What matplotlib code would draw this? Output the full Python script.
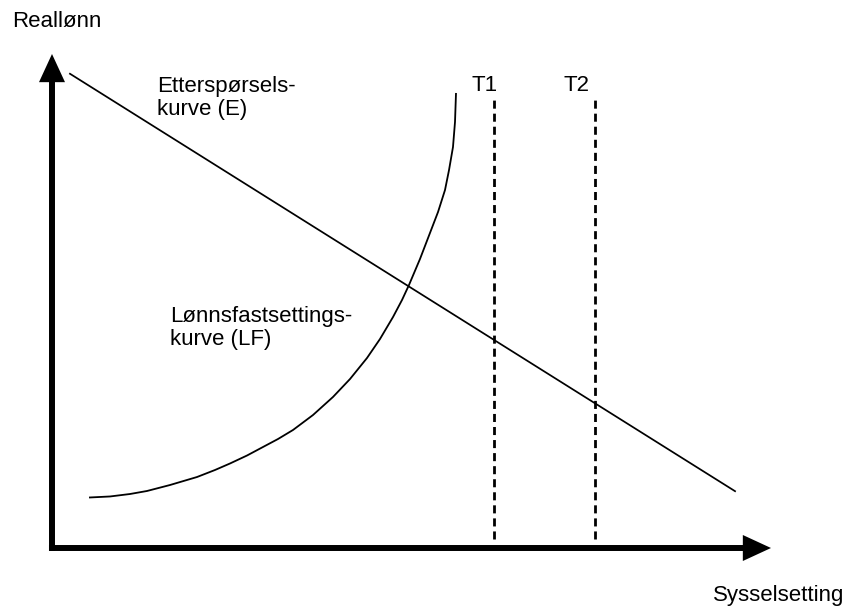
import matplotlib
matplotlib.use("Agg")
import matplotlib.pyplot as plt

plt.rcParams['font.family'] = ['Liberation Sans', 'DejaVu Sans']

# Data (abstract units: axis runs 0..100 on both axes)
demand_x = [2.5, 95.0]
demand_y = [96.0, 11.5]

lf_x = [5.15, 8.07, 10.85, 13.21, 16.41, 20.17, 22.67, 24.76, 27.12, 29.35,
        31.43, 33.52, 36.30, 39.08, 41.45, 43.81, 45.62, 47.43, 48.68, 49.65,
        51.18, 52.57, 53.69, 54.66, 55.22, 55.77, 56.05, 56.19]
lf_y = [10.22, 10.43, 10.93, 11.54, 12.75, 14.37, 15.79, 17.11, 18.72, 20.45,
        22.06, 23.89, 26.92, 30.57, 34.21, 38.46, 42.31, 46.76, 50.20, 53.24,
        58.50, 63.77, 68.02, 72.47, 76.52, 81.17, 86.23, 92.11]

t_positions = [61.5, 75.5]
t_labels = ['T1', 'T2']
t_label_x = [58.4, 71.1]
t_ymin, t_ymax = 1.8, 90.7

W, H = 847, 608
fig = plt.figure(figsize=(W / 100, H / 100), dpi=100)
fig.patch.set_facecolor('white')
x0, y0, x1, y1 = 52, 548, 771, 54
ax = fig.add_axes([x0 / W, (H - y0) / H, (x1 - x0) / W, (y0 - y1) / H])
ax.set_xlim(0, 100)
ax.set_ylim(0, 100)
ax.axis('off')

FS = 16

# axes arrows
arrow_kw = dict(arrowstyle='-|>,head_length=1.3,head_width=0.6', lw=4.3,
                color='black', shrinkA=0, shrinkB=0, mutation_scale=10,
                joinstyle='miter', capstyle='butt')
ax.annotate('', xy=(0, 100), xytext=(0, -0.6), arrowprops=arrow_kw, annotation_clip=False)
ax.annotate('', xy=(100, 0), xytext=(-0.42, 0), arrowprops=arrow_kw, annotation_clip=False)

# demand line
ax.plot(demand_x, demand_y, color='black', lw=1.25, clip_on=False)
# wage-setting curve
ax.plot(lf_x, lf_y, color='black', lw=1.3, clip_on=False,
        solid_joinstyle='round', solid_capstyle='butt')

# dashed vertical lines
for xp, lab, lx in zip(t_positions, t_labels, t_label_x):
    ax.plot([xp, xp], [t_ymin, t_ymax], color='black', lw=2.0,
            ls=(0, (2.9, 1.8)), clip_on=False)
    ax.text(lx, 92.5, lab, fontsize=FS, ha='left', va='baseline')

ax.text(14.6, 92.3, 'Etterspørsels-', fontsize=FS, ha='left', va='baseline')
ax.text(14.6, 87.7, 'kurve (E)', fontsize=FS, ha='left', va='baseline')
ax.text(16.4, 45.7, 'Lønnsfastsettings-', fontsize=FS, ha='left', va='baseline')
ax.text(16.4, 41.1, 'kurve (LF)', fontsize=FS, ha='left', va='baseline')

fig.text(12 / W, 1 - 27 / H, 'Reallønn', fontsize=FS, ha='left', va='baseline')
fig.text(844 / W, 1 - 601 / H, 'Sysselsetting', fontsize=FS, ha='right', va='baseline')

fig.savefig('out.png', dpi=100, facecolor='white')
